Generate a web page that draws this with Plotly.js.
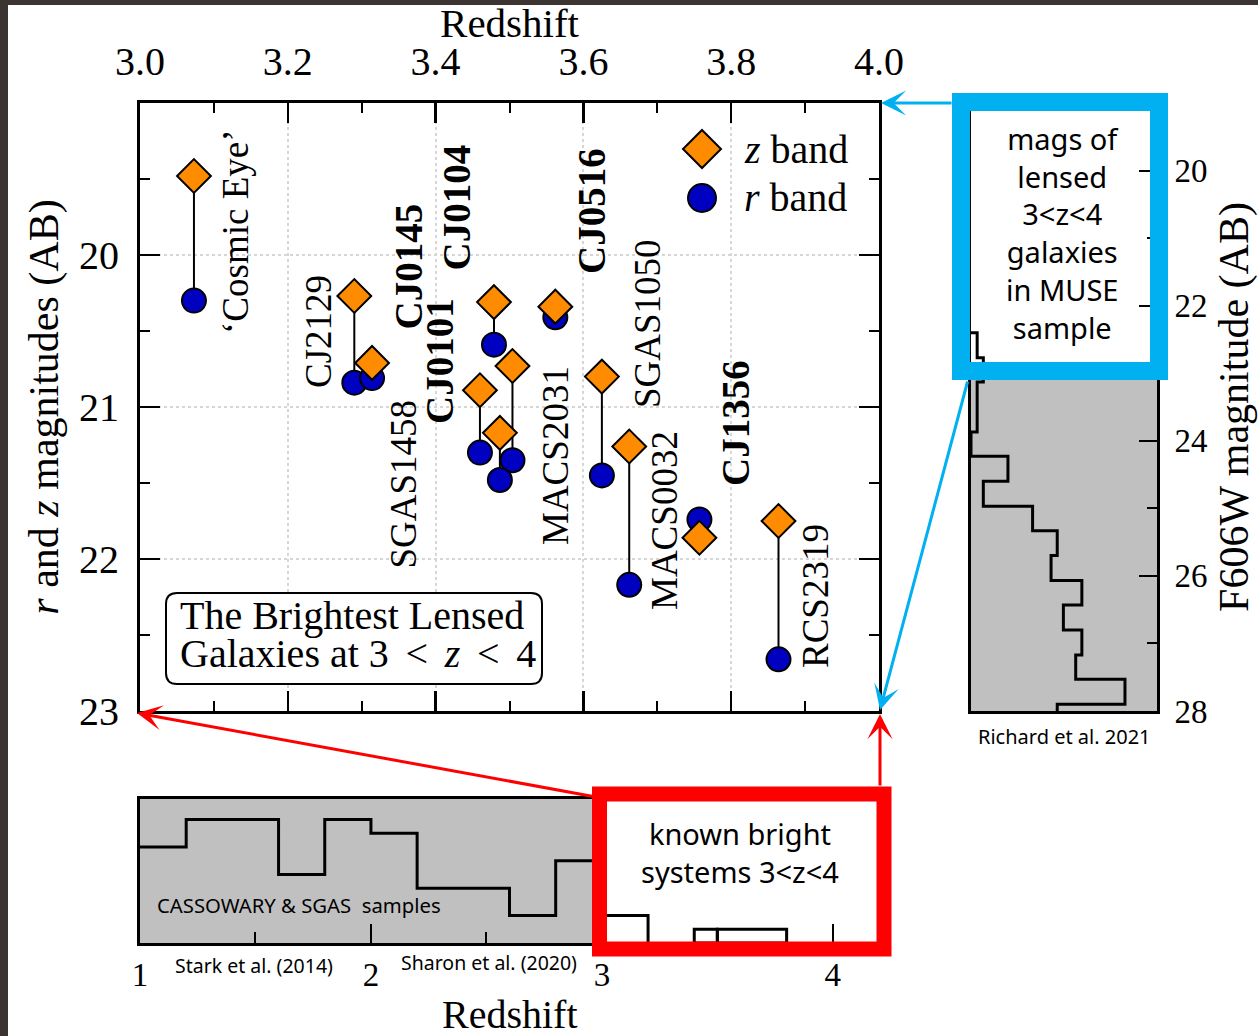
<!DOCTYPE html>
<html>
<head>
<meta charset="utf-8">
<script src="https://cdn.plot.ly/plotly-3.0.1.min.js"></script>
<style>html,body{margin:0;padding:0;background:#3b3431;}#chart{width:1258px;height:1036px;}</style>
</head>
<body>
<div id="chart"></div>
<script>
// ---------- DATA ----------
// Main panel: brightest lensed galaxies at 3<z<4
const redshift = [3.073, 3.290, 3.314, 3.479, 3.504, 3.460, 3.487, 3.562, 3.625, 3.662, 3.757, 3.864];
const zMag     = [19.48, 20.27, 20.71, 20.31, 20.73, 20.89, 21.17, 20.34, 20.80, 21.26, 21.86, 21.75];
const rMag     = [20.30, 20.84, 20.81, 20.59, 21.35, 21.30, 21.48, 20.41, 21.45, 22.17, 21.74, 22.66];
const labelNames = ["\u2018Cosmic Eye\u2019", "CJ2129", "CJ0145", "CJ0104", "CJ0101", "SGAS1458",
                    "MACS2031", "CJ0516", "SGAS1050", "MACS0032", "CJ1356", "RCS2319"];
const labelBold  = [false, false, true, true, true, false, false, true, false, false, true, false];
const mainXTicks = [3.0, 3.2, 3.4, 3.6, 3.8, 4.0];
const mainXTickText = ["3.0", "3.2", "3.4", "3.6", "3.8", "4.0"];
const mainYTicks = [20, 21, 22, 23];

// Right panel: MUSE sample F606W magnitude histogram (Richard et al. 2021)
const museEdges  = [22.40, 22.77, 23.13, 23.50, 23.87, 24.23, 24.60, 24.97, 25.33, 25.70, 26.07, 26.43, 26.80, 27.17, 27.53, 27.90, 28.27];
const museCounts = [1, 2, 1, 1, 0, 6, 2, 10, 14, 13, 18, 15, 18, 17, 25, 14];
const museTicks  = [20, 22, 24, 26, 28];

// Bottom panel: CASSOWARY & SGAS redshift histogram
const sampleEdges  = [1.0, 1.2, 1.6, 1.8, 2.0, 2.2, 2.6, 2.8, 3.0, 3.2];
const sampleCounts = [7, 9, 5, 9, 8, 4, 2, 6, 2];
// known bright systems 3<z<4 (outlined bins)
const brightEdgesLo = [3.4, 3.5];
const brightEdgesHi = [3.5, 3.8];
const brightCounts  = [1, 1];
const bottomTicks = [1, 2, 3, 4];

// ---------- HELPERS ----------
const W = 1258, H = 1036;
const px = x => x / W;
const py = y => 1 - y / H;
const SERIF = "Liberation Serif, Times New Roman, serif";
const SANS = "Noto Sans, Open Sans, sans-serif";
const ORANGE = "#ff8c00", BLUE = "#0000c0", SKY = "#00b0f0", RED = "#ff0000", GREY = "#c0c0c0";

// main-panel pixel frame (for converting label spots)
const mx = p => 3 + (p - 140) / 739;
const my = p => 19 + (p - 103) / 152;
const labelSpots = [[236,232],[318,332],[407.5,267],[456.5,208],[439,361],[402.5,484],
                    [555,456],[592,211],[647,324],[664,521],[735,423],[815,596]];

// ---------- TRACES ----------
const lx = [], ly = [];
for (let i = 0; i < redshift.length; i++) {
  lx.push(redshift[i], redshift[i], null);
  ly.push(zMag[i], rMag[i], null);
}
const stems = {x: lx, y: ly, mode: "lines", line: {color: "black", width: 2}, xaxis: "x", yaxis: "y", showlegend: false, hoverinfo: "skip"};
const rTrace = {x: redshift, y: rMag, mode: "markers", name: "r band",
  marker: {symbol: "circle", size: 24, color: BLUE, line: {color: "black", width: 2}}, xaxis: "x", yaxis: "y", showlegend: false};
const zTrace = {x: redshift, y: zMag, mode: "markers", name: "z band",
  marker: {symbol: "diamond", size: 26, color: ORANGE, line: {color: "black", width: 2}}, xaxis: "x", yaxis: "y", showlegend: false};

// step histogram (horizontal) for MUSE
const mX = [0], mY = [museEdges[0]];
for (let i = 0; i < museCounts.length; i++) { mX.push(museCounts[i]); mY.push(museEdges[i]); }
mX.push(museCounts[museCounts.length - 1]); mY.push(museEdges[museEdges.length - 1]);
const museTrace = {x: mX, y: mY, mode: "lines", line: {color: "black", width: 3, shape: "vh"}, xaxis: "x2", yaxis: "y2", showlegend: false, hoverinfo: "skip"};

// step histogram for sample
const sX = [], sY = [];
for (let i = 0; i < sampleCounts.length; i++) { sX.push(sampleEdges[i]); sY.push(sampleCounts[i]); }
sX.push(sampleEdges[sampleEdges.length - 1]); sY.push(0);
const sampleTrace = {x: sX, y: sY, mode: "lines", line: {color: "black", width: 3, shape: "hv"}, xaxis: "x3", yaxis: "y3", showlegend: false, hoverinfo: "skip"};

const brightTrace = {type: "bar",
  x: brightEdgesLo.map((lo, i) => (lo + brightEdgesHi[i]) / 2),
  y: brightCounts,
  width: brightEdgesLo.map((lo, i) => brightEdgesHi[i] - lo),
  marker: {color: "rgba(0,0,0,0)", line: {color: "black", width: 3}},
  xaxis: "x3", yaxis: "y3", showlegend: false, hoverinfo: "skip"};

// ---------- SHAPES ----------
function rrect(x0, y0, x1, y1, r) {
  const P = (x, y) => px(x) + "," + py(y);
  return "M" + P(x0 + r, y0) + " L" + P(x1 - r, y0) + " Q" + P(x1, y0) + " " + P(x1, y0 + r) +
    " L" + P(x1, y1 - r) + " Q" + P(x1, y1) + " " + P(x1 - r, y1) +
    " L" + P(x0 + r, y1) + " Q" + P(x0, y1) + " " + P(x0, y1 - r) +
    " L" + P(x0, y0 + r) + " Q" + P(x0, y0) + " " + P(x0 + r, y0) + " Z";
}
const shapes = [
  {type: "rect", xref: "paper", yref: "paper", x0: px(8), x1: 1, y0: 0, y1: py(5), fillcolor: "white", line: {width: 0}, layer: "below"},
  {type: "rect", xref: "x2", yref: "y2", x0: 0, x1: 30.2, y0: 22.97, y1: 28, fillcolor: GREY, line: {width: 0}, layer: "below"},
  {type: "rect", xref: "x3", yref: "y3", x0: 1, x1: 3.0, y0: 0, y1: 10.5, fillcolor: GREY, line: {width: 0}, layer: "below"},
  {type: "path", xref: "paper", yref: "paper", path: rrect(166, 593, 542, 684, 11), line: {color: "black", width: 2}, fillcolor: "white"},
  {type: "path", xref: "paper", yref: "paper",
   path: "M" + px(702) + "," + py(130) + " L" + px(721) + "," + py(149) + " L" + px(702) + "," + py(168) + " L" + px(683) + "," + py(149) + " Z",
   fillcolor: ORANGE, line: {color: "black", width: 2}},
  {type: "circle", xref: "paper", yref: "paper", x0: px(688), x1: px(716), y0: py(212), y1: py(184), fillcolor: BLUE, line: {color: "black", width: 2}},
  {type: "rect", xref: "paper", yref: "paper", x0: px(961), x1: px(1159), y0: py(371), y1: py(102), line: {color: SKY, width: 18}, fillcolor: "rgba(0,0,0,0)"},
  {type: "rect", xref: "paper", yref: "paper", x0: px(599.5), x1: px(884), y0: py(949), y1: py(794), line: {color: RED, width: 15}, fillcolor: "rgba(0,0,0,0)"}
];

// ---------- ANNOTATIONS ----------
const ann = [];
labelNames.forEach((n, i) => {
  ann.push({xref: "x", yref: "y", x: mx(labelSpots[i][0]), y: my(labelSpots[i][1]),
    text: labelBold[i] ? "<b>" + n + "</b>" : n, textangle: -90, showarrow: false,
    xanchor: "center", yanchor: "middle",
    font: {family: SERIF, size: labelBold[i] ? 39 : 37, color: "black"}});
});
function txt(x, y, t, size, fam, anchor) {
  ann.push({xref: "paper", yref: "paper", x: px(x), y: py(y), text: t, showarrow: false,
    xanchor: anchor || "center", yanchor: "middle", font: {family: fam, size: size, color: "black"}});
}
const sp = " \u2006";
const big = s => '<span style="font-size:40px">' + s + '</span>';
ann.push({xref: "paper", yref: "paper", x: px(178), y: py(634.5), showarrow: false,
  text: big("The Brightest Lensed") + "<br>" + big("Galaxies at 3" + sp + "&lt;" + sp + "<i>z</i>" + sp + "&lt;" + sp + "4"),
  xanchor: "left", yanchor: "middle", align: "left", font: {family: SERIF, size: 29, color: "black"}});
txt(742, 149, "<i>z</i>&nbsp;band", 40, SERIF, "left");
txt(742, 198, "<i>r</i>&nbsp;band", 40, SERIF, "left");
ann.push({xref: "paper", yref: "paper", x: px(1062), y: py(233),
  text: "mags of<br>lensed<br>3&lt;z&lt;4<br>galaxies<br>in MUSE<br>sample", showarrow: false,
  xanchor: "center", yanchor: "middle", align: "center", font: {family: SANS, size: 29, color: "black"}});
ann.push({xref: "paper", yref: "paper", x: px(740), y: py(852),
  text: "known bright<br>systems 3&lt;z&lt;4", showarrow: false,
  xanchor: "center", yanchor: "middle", align: "center", font: {family: SANS, size: 29, color: "black"}});
txt(1064, 736, "Richard et al. 2021", 20, SANS);
txt(299, 905, "CASSOWARY &amp; SGAS&nbsp; samples", 20.3, SANS);
txt(254, 965, "Stark et al. (2014)", 19.5, SANS);
txt(489, 962, "Sharon et al. (2020)", 19.5, SANS);
// bottom-panel axis title
txt(509.5, 1014, "Redshift", 40, SERIF);

function arrow(hx, hy, tx, ty, color) {
  ann.push({xref: "paper", yref: "paper", x: px(hx), y: py(hy), ax: tx - hx, ay: ty - hy,
    axref: "pixel", ayref: "pixel", text: "", showarrow: true, arrowhead: 3, arrowsize: 1.4,
    arrowwidth: 3, arrowcolor: color, standoff: 0, startstandoff: 0});
}
arrow(881, 103, 953, 103, SKY);
arrow(880, 710, 968, 380, SKY);
arrow(137, 713, 596, 797, RED);
arrow(880, 714, 880, 787, RED);

// ---------- LAYOUT ----------
const tickFontMain = {family: SERIF, size: 40, color: "black"};
const layout = {
  width: W, height: H,
  margin: {l: 0, r: 0, t: 0, b: 0, autoexpand: false},
  paper_bgcolor: "#3b3431", plot_bgcolor: "white",
  showlegend: false,
  xaxis: {domain: [px(140), px(879)], anchor: "y", side: "top", range: [3, 4],
    tickmode: "array", tickvals: mainXTicks, ticktext: mainXTickText,
    ticks: "inside", ticklen: 20, tickwidth: 2.5, tickcolor: "black",
    minor: {tickmode: "linear", tick0: 3, dtick: 0.1, ticks: "inside", ticklen: 10, tickwidth: 2, tickcolor: "black", showgrid: false},
    showline: true, linewidth: 3, linecolor: "black", mirror: "allticks",
    showgrid: true, gridcolor: "#d6d6d6", griddash: "dot", gridwidth: 2, zeroline: false,
    tickfont: tickFontMain, ticklabelstandoff: 9,
    title: {text: "Redshift", font: {family: SERIF, size: 41, color: "black"}, standoff: 0}},
  yaxis: {domain: [py(711), py(103)], anchor: "x", range: [23, 19],
    tickmode: "array", tickvals: mainYTicks,
    ticks: "inside", ticklen: 20, tickwidth: 2.5, tickcolor: "black",
    minor: {tickmode: "linear", tick0: 19, dtick: 0.5, ticks: "inside", ticklen: 10, tickwidth: 2, tickcolor: "black", showgrid: false},
    showline: true, linewidth: 3, linecolor: "black", mirror: "allticks",
    showgrid: true, gridcolor: "#d6d6d6", griddash: "dot", gridwidth: 2, zeroline: false,
    tickfont: tickFontMain, ticklabelstandoff: 10,
    title: {text: "<i>r</i> and <i>z</i> magnitudes (AB)", font: {family: SERIF, size: 42, color: "black"}, standoff: 8}},
  xaxis2: {domain: [px(971), px(1157)], anchor: "y2", range: [0, 30.2],
    showticklabels: false, ticks: "", showgrid: false, zeroline: false,
    showline: true, linewidth: 3, linecolor: "black", mirror: true},
  yaxis2: {domain: [py(711), py(103)], anchor: "x2", side: "right", range: [28, 19],
    tickmode: "array", tickvals: museTicks,
    ticks: "inside", ticklen: 18, tickwidth: 2, tickcolor: "black",
    minor: {tickmode: "linear", tick0: 19, dtick: 1, ticks: "inside", ticklen: 10, tickwidth: 2, tickcolor: "black", showgrid: false},
    showline: true, linewidth: 3, linecolor: "black", mirror: true, showgrid: false, zeroline: false,
    tickfont: {family: SERIF, size: 33, color: "black"}, ticklabelstandoff: 8,
    title: {text: "F606W magnitude (AB)", font: {family: SERIF, size: 42, color: "black"}, standoff: 18}},
  xaxis3: {domain: [px(140), px(879)], anchor: "y3", range: [1, 4.2],
    tickmode: "array", tickvals: bottomTicks,
    ticks: "inside", ticklen: 19, tickwidth: 2.5, tickcolor: "black",
    minor: {tickmode: "linear", tick0: 1, dtick: 0.5, ticks: "inside", ticklen: 11, tickwidth: 2, tickcolor: "black", showgrid: false},
    showline: true, linewidth: 3, linecolor: "black", mirror: true, showgrid: false, zeroline: false,
    tickfont: {family: SERIF, size: 33, color: "black"}, ticklabelstandoff: 0},
  yaxis3: {domain: [py(943), py(799)], anchor: "x3", range: [0, 10.5],
    showticklabels: false, ticks: "", showgrid: false, zeroline: false,
    showline: true, linewidth: 3, linecolor: "black", mirror: true},
  shapes: shapes,
  annotations: ann
};

Plotly.newPlot("chart", [museTrace, sampleTrace, brightTrace, stems, rTrace, zTrace], layout, {displayModeBar: false, staticPlot: true});
</script>
</body>
</html>
